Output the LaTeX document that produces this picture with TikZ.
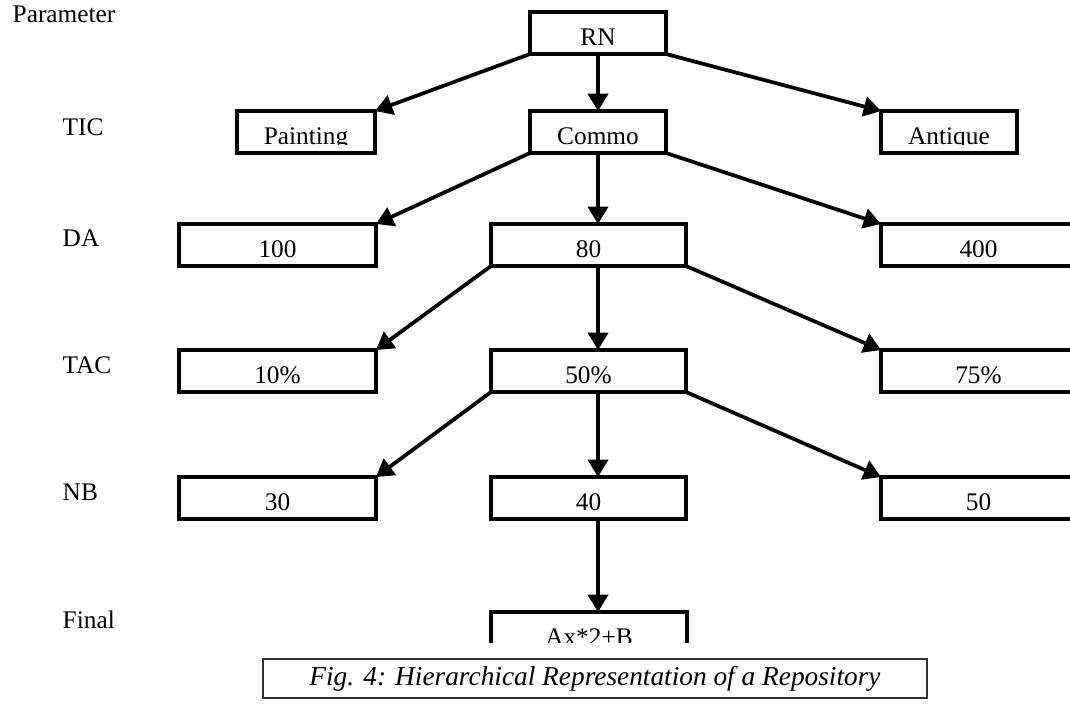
\documentclass[tikz,border=0pt]{standalone}
\usepackage{fontspec}
\setmainfont{Liberation Serif}
\usetikzlibrary{arrows.meta}
\begin{document}
\begin{tikzpicture}[x=0.75pt,y=-0.75pt,
  every node/.style={font=\fontsize{19}{21}\selectfont},
  box/.style={draw, line width=2.8pt, inner sep=0pt, outer sep=0pt, anchor=north west, minimum height=31.5pt},
  txt/.style={path picture={
      \clip (path picture bounding box.north west) rectangle ([yshift=-24.75pt]path picture bounding box.north east);
      \node[anchor=base] at ([yshift=-24.75pt]path picture bounding box.north) {#1};}},
  lab/.style={anchor=base west},
  arr/.style={line width=2.8pt, -{Triangle[length=13pt,width=15pt]}},
  capbox/.style={draw=black!80, line width=1.1pt, minimum width=498pt, minimum height=29.25pt, inner sep=0pt, font=\fontsize{20.5}{22}\selectfont\itshape}
]
\clip (0,0) rectangle (1070,707);
\fill[white] (0,0) rectangle (1070,707);

% row labels
\node[lab] (lparam) at (8,22) {Parameter};
\node[lab] (ltic) at (58,135) {TIC};
\node[lab] (lda) at (58,246) {DA};
\node[lab] (ltac) at (58,373) {TAC};
\node[lab] (lnb) at (58,500) {NB};
\node[lab] (lfin) at (58,628) {Final};

% boxes
\node[box, minimum width=102pt, txt={RN}] (rn) at (530,12) {};
\node[box, minimum width=103.5pt, txt={Painting}] (paint) at (237,111) {};
\node[box, minimum width=102pt, txt={Commo}] (commo) at (530,111) {};
\node[box, minimum width=102pt, txt={Antique}] (antique) at (881,111) {};

\node[box, minimum width=147.75pt, txt={100}] (d100) at (179,224) {};
\node[box, minimum width=146.25pt, txt={80}] (d80) at (491,224) {};
\node[box, minimum width=146.25pt, txt={400}] (d400) at (881,224) {};

\node[box, minimum width=147.75pt, txt={10\%}] (t10) at (179,350) {};
\node[box, minimum width=146.25pt, txt={50\%}] (t50) at (491,350) {};
\node[box, minimum width=146.25pt, txt={75\%}] (t75) at (881,350) {};

\node[box, minimum width=147.75pt, txt={30}] (n30) at (179,477) {};
\node[box, minimum width=146.25pt, txt={40}] (n40) at (491,477) {};
\node[box, minimum width=146.25pt, txt={50}] (n50) at (881,477) {};

\begin{scope}
  \clip (400,600) rectangle (800,642);
  \node[box, minimum width=147pt, txt={Ax*2+B}] (fin) at (491,612) {};
\end{scope}

% connectors
\draw[arr] (rn.south west) -- (paint.north east);
\draw[arr] (rn.south) -- (commo.north);
\draw[arr] (rn.south east) -- (antique.north west);

\draw[arr] (commo.south west) -- (d100.north east);
\draw[arr] (commo.south) -- (commo.south |- d80.north);
\draw[arr] (commo.south east) -- (d400.north west);

\draw[arr] (d80.south west) -- (t10.north east);
\draw[arr] (commo.south |- d80.south) -- (commo.south |- t50.north);
\draw[arr] (d80.south east) -- (t75.north west);

\draw[arr] (t50.south west) -- (n30.north east);
\draw[arr] (commo.south |- t50.south) -- (commo.south |- n40.north);
\draw[arr] (t50.south east) -- (n50.north west);

\draw[arr] (commo.south |- n40.south) -- (commo.south |- fin.north);

% caption
\node[capbox] (cap) at (595,678.5) {Fig. 4: Hierarchical Representation of a Repository};
\end{tikzpicture}
\end{document}
